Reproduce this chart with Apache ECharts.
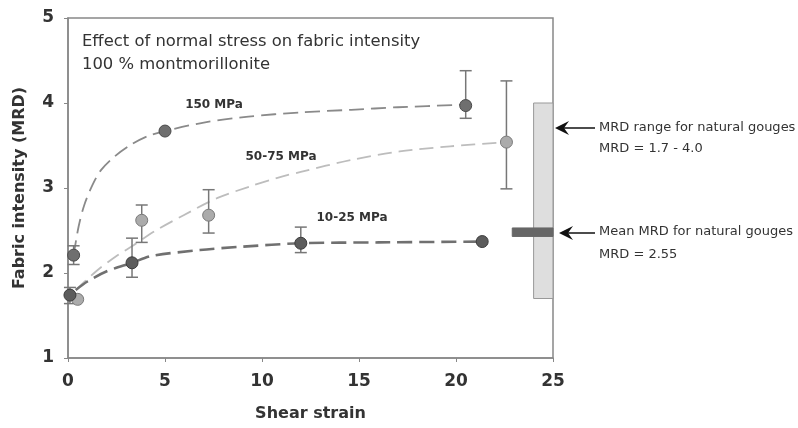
<!DOCTYPE html>
<html>
<head>
<meta charset="utf-8">
<script src="https://cdn.jsdelivr.net/npm/echarts@6/dist/echarts.min.js"></script>
<style>
  html, body { margin: 0; padding: 0; background: #fff; }
  #main { width: 798px; height: 428px; }
</style>
</head>
<body>
<div id="main"></div>
<script>
// measured points [shear strain, MRD]
var pts150 = [[0.29, 2.21], [5, 3.67], [20.5, 3.97]];
var pts5075 = [[0.5, 1.69], [3.8, 2.62], [7.25, 2.68], [22.6, 3.54]];
var pts1025 = [[0.1, 1.74], [3.3, 2.12], [12, 2.35], [21.35, 2.37]];

// error bars [x, low, high]
var err150 = [[0.29, 2.10, 2.32], [20.5, 3.82, 4.38]];
var err5075 = [[3.8, 2.36, 2.80], [7.25, 2.47, 2.98], [22.6, 2.99, 4.26]];
var err1025 = [[0.1, 1.64, 1.83], [3.3, 1.95, 2.41], [12, 2.24, 2.54]];

// fitted trend curves
var fit150 = [[0.29, 2.21], [0.55, 2.55], [0.84, 2.8], [1.27, 3.04], [1.7, 3.21], [2.4, 3.37],
  [3.25, 3.51], [4.1, 3.61], [5, 3.67], [7, 3.77], [9.3, 3.84], [12, 3.89], [14.6, 3.92], [17, 3.95], [20.5, 3.98]];
var fit5075 = [[0.4, 1.8], [1.5, 2.03], [2.5, 2.2], [3.4, 2.33], [4.45, 2.49], [5.96, 2.68],
  [7.68, 2.88], [9.4, 3.02], [10.8, 3.12], [12, 3.19], [14.6, 3.33], [17.1, 3.43], [19.7, 3.49], [22.6, 3.54]];
var fit1025 = [[0.4, 1.8], [1, 1.9], [2, 2.02], [3.3, 2.12], [4.3, 2.2], [6.8, 2.27],
  [9, 2.31], [12, 2.35], [16, 2.36], [21.4, 2.37]];

// natural gouges: range box [x0, x1, y0, y1] and mean bar
var rangeBox = [[24, 25, 1.7, 4.0]];
var meanBar = [[22.9, 25, 2.43, 2.53]];

var xTicks = [0, 5, 10, 15, 20, 25];
var yTicks = [1, 2, 3, 4, 5];

var chart = echarts.init(document.getElementById('main'));

function errRender(params, api) {
  var x = api.value(0);
  var pLo = api.coord([x, api.value(1)]);
  var pHi = api.coord([x, api.value(2)]);
  var w = 6;
  var st = { stroke: '#777', lineWidth: 1.5 };
  return {
    type: 'group',
    children: [
      { type: 'line', shape: { x1: pLo[0], y1: pLo[1], x2: pHi[0], y2: pHi[1] }, style: st },
      { type: 'line', shape: { x1: pLo[0] - w, y1: pLo[1], x2: pLo[0] + w, y2: pLo[1] }, style: st },
      { type: 'line', shape: { x1: pHi[0] - w, y1: pHi[1], x2: pHi[0] + w, y2: pHi[1] }, style: st }
    ]
  };
}

function boxRender(fill, stroke) {
  return function (params, api) {
    var a = api.coord([api.value(0), api.value(3)]);
    var b = api.coord([api.value(1), api.value(2)]);
    return {
      type: 'rect',
      shape: { x: a[0], y: a[1], width: b[0] - a[0], height: b[1] - a[1] },
      style: { fill: fill, stroke: stroke, lineWidth: 1 }
    };
  };
}

function errSeries(data) {
  return { type: 'custom', data: data, renderItem: errRender, encode: { x: 0, y: [1, 2] }, z: 3, clip: false, silent: true };
}

function fitSeries(data, color, width, dash) {
  return {
    type: 'line', data: data, smooth: 0.3, showSymbol: false, z: 2, silent: true,
    lineStyle: { color: color, width: width, type: dash }
  };
}

function ptSeries(data, fill, border) {
  return {
    type: 'scatter', data: data, symbolSize: 12, z: 5,
    itemStyle: { color: fill, borderColor: border, borderWidth: 1, opacity: 1 }
  };
}

function arrow(tipX, y, endX) {
  return {
    type: 'group',
    children: [
      { type: 'line', shape: { x1: tipX + 8, y1: y, x2: endX, y2: y }, style: { stroke: '#111', lineWidth: 1.5 } },
      { type: 'polygon', shape: { points: [[tipX, y], [tipX + 14, y - 7], [tipX + 9, y], [tipX + 14, y + 7]] }, style: { fill: '#111' } }
    ]
  };
}

function txt(x, y, s, size, weight, align) {
  return {
    type: 'text', x: x, y: y,
    style: { text: s, fontFamily: 'DejaVu Sans', fontSize: size, fontWeight: weight, fill: '#333',
      align: align || 'left', verticalAlign: 'middle' }
  };
}

var option = {
  animation: false,
  backgroundColor: '#fff',
  grid: { left: 68, right: 245, top: 18, bottom: 70, show: true, borderColor: '#888', borderWidth: 1.5 },
  xAxis: {
    type: 'value', min: xTicks[0], max: xTicks[xTicks.length - 1], interval: 5,
    name: 'Shear strain', nameLocation: 'middle', nameGap: 48,
    nameTextStyle: { fontFamily: 'DejaVu Sans', fontSize: 16, fontWeight: 'bold', color: '#333' },
    axisLine: { lineStyle: { color: '#888', width: 1.5 } },
    axisTick: { show: true, length: 4, lineStyle: { color: '#888' } },
    axisLabel: { margin: 15, fontFamily: 'DejaVu Sans', fontSize: 17, fontWeight: 'bold', color: '#333' },
    splitLine: { show: false }
  },
  yAxis: {
    type: 'value', min: yTicks[0], max: yTicks[yTicks.length - 1], interval: 1,
    name: 'Fabric intensity (MRD)', nameLocation: 'middle', nameGap: 40,
    nameTextStyle: { fontFamily: 'DejaVu Sans', fontSize: 16, fontWeight: 'bold', color: '#333' },
    axisLine: { show: true, lineStyle: { color: '#888', width: 1.5 } },
    axisTick: { show: true, length: 4, lineStyle: { color: '#888' } },
    axisLabel: { margin: 14, fontFamily: 'DejaVu Sans', fontSize: 17, fontWeight: 'bold', color: '#333' },
    splitLine: { show: false }
  },
  series: [
    { type: 'custom', data: rangeBox, renderItem: boxRender('#dedede', '#999'), encode: { x: [0, 1], y: [2, 3] }, z: 1, clip: false, silent: true },
    { type: 'custom', data: meanBar, renderItem: boxRender('#666', '#666'), encode: { x: [0, 1], y: [2, 3] }, z: 1, clip: false, silent: true },
    fitSeries(fit150, '#8a8a8a', 1.8, [15, 7]),
    fitSeries(fit5075, '#bdbdbd', 1.8, [14, 7]),
    fitSeries(fit1025, '#707070', 2.6, [15, 7]),
    errSeries(err150),
    errSeries(err5075),
    errSeries(err1025),
    ptSeries(pts150, '#6f6f6f', '#4a4a4a'),
    ptSeries(pts5075, '#ababab', '#7a7a7a'),
    ptSeries(pts1025, '#5c5c5c', '#3c3c3c')
  ],
  graphic: [
    txt(82, 42, 'Effect of normal stress on fabric intensity', 16.4, 'normal'),
    txt(82, 65, '100 % montmorillonite', 16.4, 'normal'),
    txt(214, 105, '150 MPa', 12, 'bold', 'center'),
    txt(281, 157, '50-75 MPa', 12, 'bold', 'center'),
    txt(352, 218, '10-25 MPa', 12, 'bold', 'center'),
    arrow(555, 128, 595),
    arrow(559, 233, 595),
    txt(599, 128, 'MRD range for natural gouges', 13, 'normal'),
    txt(599, 149, 'MRD = 1.7 - 4.0', 13, 'normal'),
    txt(599, 232, 'Mean MRD for natural gouges', 13, 'normal'),
    txt(599, 255, 'MRD = 2.55', 13, 'normal')
  ]
};

chart.setOption(option);
</script>
</body>
</html>
